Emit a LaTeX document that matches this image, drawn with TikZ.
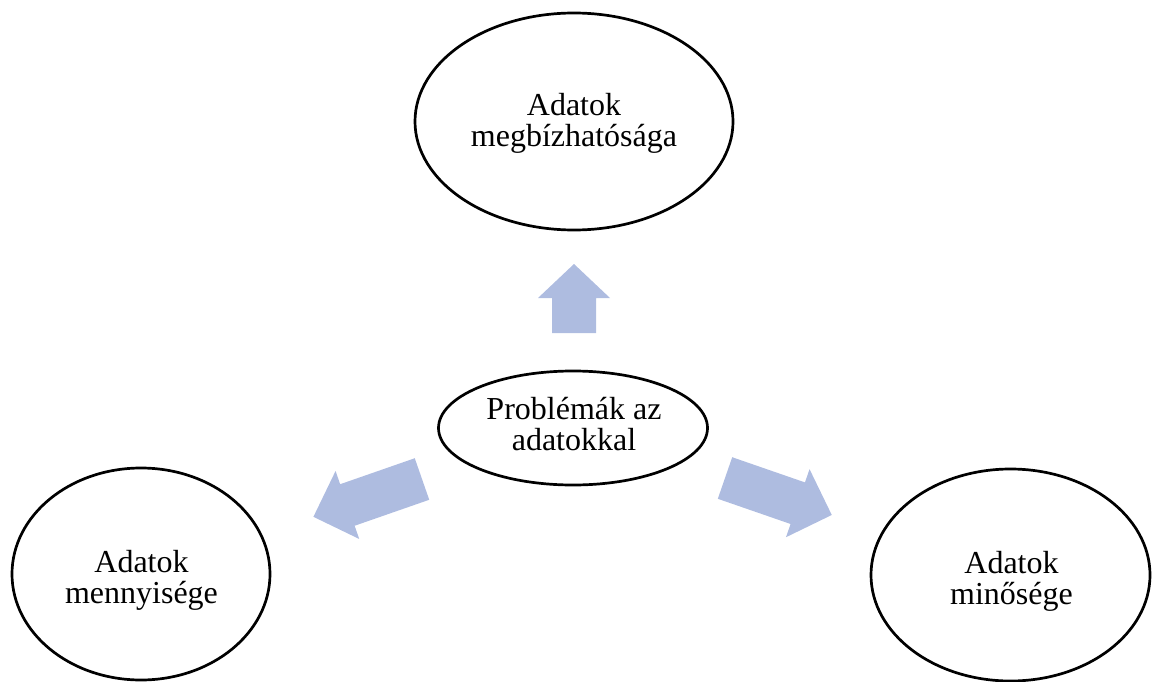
\documentclass[tikz,border=0pt]{standalone}
\usepackage{fontspec}
\setmainfont{Liberation Serif}
\usetikzlibrary{shapes.geometric}

\definecolor{arrowblue}{RGB}{174,188,224}

\tikzset{
  bubble/.style={ellipse, draw=black, line width=2.7pt, inner sep=0pt, fill=white},
  caption/.style={align=center, inner sep=0pt, font=\fontsize{32}{31.5}\selectfont},
  % block arrow along local +x: #1 = total length, #2 = head length
  pics/blockarrow/.style 2 args={code={
    \fill[arrowblue] (0,-22) -- ({#1-#2},-22) -- ({#1-#2},-36) -- (#1,0)
      -- ({#1-#2},36) -- ({#1-#2},22) -- (0,22) -- cycle;
  }}
}

\begin{document}
\begin{tikzpicture}[x=1pt, y=-1pt]
  \useasboundingbox (0,0) rectangle (1153,682);

  % ellipses
  \node[bubble, minimum width=318pt, minimum height=217pt] (reliab) at (574,121.5) {};
  \node[bubble, minimum width=269pt, minimum height=114pt] (problem) at (573,428) {};
  \node[bubble, minimum width=258pt, minimum height=212pt] (quantity) at (141,574) {};
  \node[bubble, minimum width=279pt, minimum height=212pt] (quality) at (1010.5,575) {};

  % labels
  \node[caption] (reliabText) at (574,123.5) {Adatok\\megbízhatósága};
  \node[caption] (problemText) at (574,424) {Problémák az\\adatokkal};
  \node[caption] (quantityText) at (141.5,580.5) {Adatok\\mennyisége};
  \node[caption] (qualityText) at (1011.5,581.5) {Adatok\\minősége};

  % block arrows pointing out of the central ellipse
  \pic[rotate=90] at (574,333) {blockarrow={69}{34}};
  \pic[rotate=199.2] at (422,479) {blockarrow={115}{36}};
  \pic[rotate=-19.1] at (725,478) {blockarrow={113}{36}};
\end{tikzpicture}
\end{document}
